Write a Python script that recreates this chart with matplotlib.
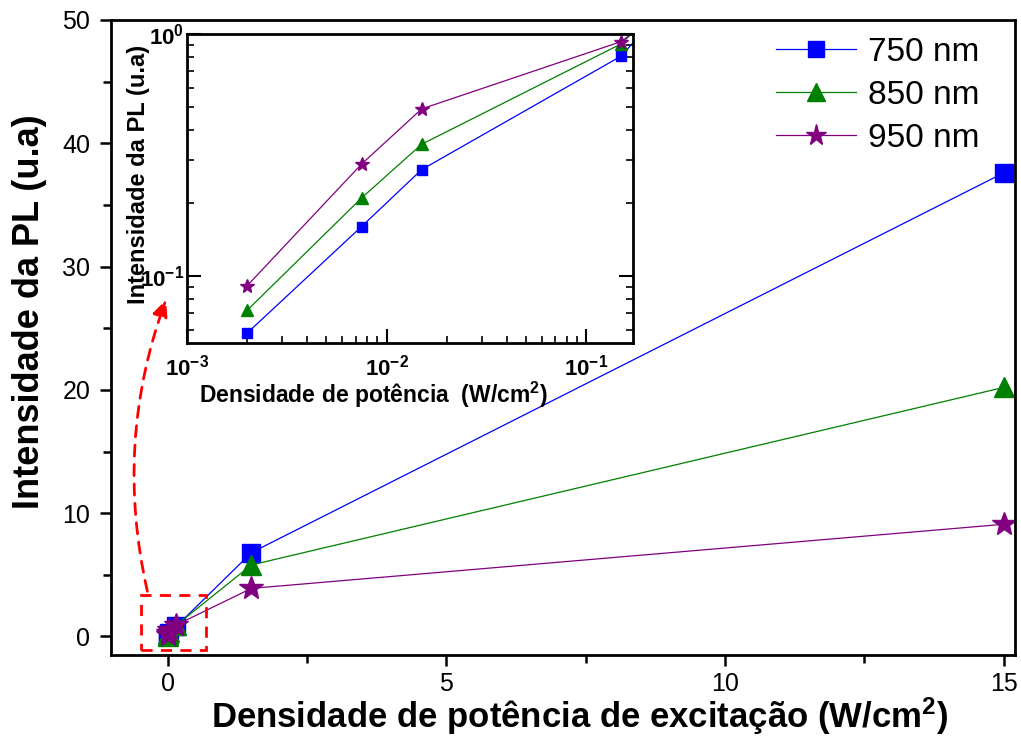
import numpy as np
import matplotlib
matplotlib.use("Agg")
import matplotlib.pyplot as plt
from matplotlib.patches import Rectangle, FancyArrowPatch
from matplotlib.ticker import MultipleLocator, LogLocator, NullFormatter, FuncFormatter

plt.rcParams['font.family'] = ['Liberation Sans', 'DejaVu Sans']
plt.rcParams['mathtext.fontset'] = 'custom'
plt.rcParams['mathtext.rm'] = 'Liberation Sans'
plt.rcParams['mathtext.bf'] = 'Liberation Sans:bold'
plt.rcParams['mathtext.it'] = 'Liberation Sans:italic'

# densidade de potencia (W/cm2) e intensidade da PL para cada comprimento de onda
densidade = [0.002, 0.0075, 0.015, 0.15, 1.5, 15]
pl_750 = [0.058, 0.16, 0.275, 0.81, 6.8, 37.6]
pl_850 = [0.072, 0.21, 0.35, 0.91, 5.8, 20.2]
pl_950 = [0.091, 0.29, 0.49, 0.93, 3.9, 9.1]
rotulos = ["750 nm", "850 nm", "950 nm"]

series = [pl_750, pl_850, pl_950]
cores = ["#0000FF", "#008000", "#800080"]
marcadores = ["s", "^", "*"]
tam_grande = [13, 15, 18]
tam_peq = [7, 8.5, 10]

fig = plt.figure(figsize=(10.21, 7.40), dpi=100)
ax = fig.add_axes([0.1087, 0.1149, 0.8853, 0.8581])

for y, c, m, s, lab in zip(series, cores, marcadores, tam_grande, rotulos):
    ax.plot(densidade, y, color=c, lw=0.9, marker=m, ms=s, mec=c, label=lab)

ax.set_xlim(-1.02, 15.2)
ax.set_ylim(-1.5, 50)
ax.xaxis.set_major_locator(MultipleLocator(5))
ax.xaxis.set_minor_locator(MultipleLocator(2.5))
ax.yaxis.set_major_locator(MultipleLocator(10))
ax.yaxis.set_minor_locator(MultipleLocator(5))
ax.tick_params(which='major', direction='out', length=8, width=1.8, labelsize=18, pad=7)
ax.tick_params(axis='x', which='major', pad=4)
ax.tick_params(which='minor', direction='out', length=6, width=1.8)
for sp in ax.spines.values():
    sp.set_linewidth(2)
ax.set_xlabel(r"Densidade de potência de excitação (W/cm$^\mathbf{2}$)",
              fontsize=25, fontweight='bold')
ax.set_ylabel("Intensidade da PL (u.a)", fontsize=26, fontweight='bold')
ax.xaxis.set_label_coords(0.518, -0.064)
ax.yaxis.set_label_coords(-0.071, 0.54)

# caixa tracejada em torno dos pontos de baixa potencia
ax.add_patch(Rectangle((-0.48, -1.1), 1.16, 4.5, fill=False, ec='red',
                       ls=(0, (4, 3)), lw=2, zorder=5))

leg = ax.legend(loc='upper left', bbox_to_anchor=(0.712, 1.008), frameon=False,
                fontsize=24, handlelength=2.4, handletextpad=0.35,
                labelspacing=0.36, borderaxespad=0.25, markerscale=0.85)

# grafico inserido em escala log
ins = fig.add_axes([0.1832, 0.5365, 0.4368, 0.4176])
for y, c, m, s in zip(series, cores, marcadores, tam_peq):
    ins.plot(densidade, y, color=c, lw=0.9, marker=m, ms=s, mec=c)
ins.set_xscale('log')
ins.set_yscale('log')
ins.set_xlim(1e-3, 0.172)
ins.set_ylim(0.0528, 1.0)
pot10 = FuncFormatter(lambda v, pos: r"$\mathbf{10^{%d}}$" % round(np.log10(v)))
ins.xaxis.set_major_locator(LogLocator(base=10))
ins.yaxis.set_major_locator(LogLocator(base=10))
ins.xaxis.set_major_formatter(pot10)
ins.yaxis.set_major_formatter(pot10)
ins.yaxis.set_minor_locator(LogLocator(base=10, subs=np.arange(2, 10)))
ins.yaxis.set_minor_formatter(NullFormatter())
ins.xaxis.set_minor_formatter(NullFormatter())
ins.tick_params(which='both', direction='in', right=True, top=False, labelsize=16)
ins.tick_params(which='major', length=10, width=1.5, pad=8)
ins.tick_params(axis='y', which='major', pad=2)
ins.tick_params(which='minor', length=5, width=1.2)
for sp in ins.spines.values():
    sp.set_linewidth(2)
ins.set_xlabel(r"Densidade de potência  (W/cm$^\mathbf{2}$)", fontsize=16.5,
               fontweight='bold')
ins.set_ylabel("Intensidade da PL (u.a)", fontsize=17, fontweight='bold')
ins.xaxis.set_label_coords(0.417, -0.118)
ins.yaxis.set_label_coords(-0.083, 0.544)

# seta tracejada da caixa ate o grafico inserido
seta = FancyArrowPatch((148 / 1021, 1 - 594 / 740), (167 / 1021, 1 - 297 / 740),
                       transform=fig.transFigure, connectionstyle="arc3,rad=-0.15",
                       arrowstyle="-|>,head_length=10,head_width=4.5", color='red',
                       lw=2, ls=(0, (4, 3)))
fig.patches.append(seta)

fig.savefig("out.png", dpi=100)
